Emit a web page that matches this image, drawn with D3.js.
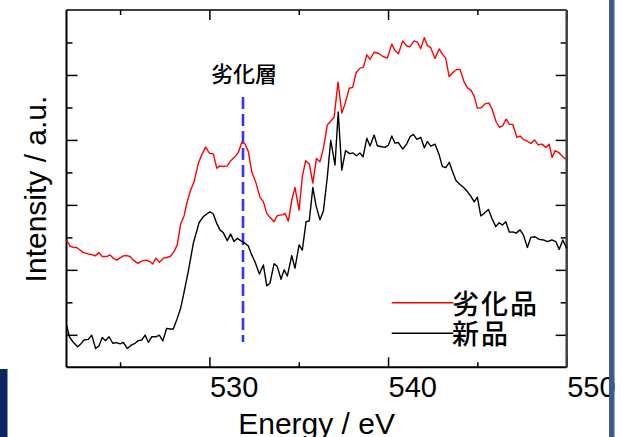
<!DOCTYPE html>
<html>
<head>
<meta charset="utf-8">
<script src="https://cdn.jsdelivr.net/npm/d3@7"></script>
<style>
  body { margin: 0; background: #fff; }
  svg { display: block; }
</style>
</head>
<body>
<svg width="621" height="437"></svg>
<script>
var width = 621;
var height = 437;

// Energy (eV) / Intensity (a.u.)
var degradedEnergy = [522.01,522.20,522.38,522.57,522.76,522.94,523.22,523.41,523.60,523.82,524.00,524.25,524.44,524.62,524.81,525.00,525.18,525.37,525.56,525.74,525.99,526.21,526.45,526.68,526.83,527.01,527.20,527.42,527.61,527.80,528.02,528.20,528.39,528.58,528.74,528.92,529.14,529.38,529.57,529.79,530.00,530.22,530.41,530.59,530.78,531.00,531.19,531.43,531.62,531.81,531.99,532.18,532.37,532.61,532.83,533.02,533.21,533.39,533.62,533.80,534.14,534.23,534.42,534.61,534.79,535.02,535.20,535.39,535.59,535.79,535.99,536.19,536.38,536.60,536.75,536.98,537.20,537.41,537.59,537.83,538.02,538.21,538.43,538.62,538.81,538.99,539.22,539.46,539.74,539.96,540.21,540.39,540.58,540.82,541.05,541.23,541.46,541.64,541.83,542.03,542.20,542.39,542.63,542.86,543.04,543.23,543.42,543.66,543.85,544.03,544.26,544.44,544.63,544.82,545.00,545.21,545.43,545.64,545.82,546.05,546.23,546.41,546.61,546.79,546.98,547.21,547.39,547.58,547.80,547.99,548.20,548.40,548.62,548.83,549.02,549.18,549.35,549.56,549.78,550.00];
var degradedIntensity = [3.92,3.73,3.69,3.69,3.61,3.53,3.49,3.47,3.43,3.53,3.41,3.41,3.46,3.36,3.30,3.37,3.43,3.44,3.41,3.30,3.20,3.27,3.30,3.25,3.18,3.36,3.23,3.36,3.38,3.41,3.56,3.77,4.41,4.66,5.06,5.41,5.71,6.28,6.54,6.78,6.59,6.57,6.13,6.20,6.18,6.20,6.36,6.48,6.61,6.92,6.88,6.64,6.02,5.67,5.23,5.10,4.74,4.62,4.48,4.67,4.70,4.74,4.50,5.15,5.54,4.84,5.87,6.36,6.26,5.67,6.43,6.33,6.74,7.46,7.55,7.70,8.78,7.83,8.11,8.59,8.62,9.07,9.21,9.24,9.62,9.48,9.70,9.67,9.56,9.52,9.95,9.75,9.65,10.05,9.89,9.87,10.05,10.01,9.81,10.15,9.90,9.84,9.51,9.80,9.64,9.51,8.95,9.09,9.17,9.17,8.78,8.60,8.54,8.34,7.98,7.99,8.11,8.14,7.95,7.56,7.39,7.43,7.64,7.48,7.48,7.08,7.12,7.01,6.96,6.89,7.00,6.85,6.87,6.77,6.87,6.46,6.67,6.61,6.48,6.38];

var newEnergy = [522.01,522.16,522.38,522.62,522.80,522.98,523.22,523.41,523.63,523.82,524.00,524.19,524.38,524.59,524.81,525.00,525.18,525.40,525.65,525.84,526.02,526.21,526.40,526.58,526.77,527.00,527.20,527.39,527.61,527.80,527.98,528.17,528.39,528.55,528.82,529.10,529.42,529.66,529.85,530.03,530.22,530.41,530.59,530.78,531.00,531.19,531.38,531.56,531.75,531.94,532.18,532.37,532.55,532.80,533.02,533.21,533.39,533.62,533.80,534.01,534.18,534.36,534.61,534.79,535.02,535.20,535.41,535.59,535.79,535.97,536.19,536.38,536.60,536.79,537.03,537.21,537.41,537.62,537.85,538.04,538.23,538.42,538.60,538.81,538.99,539.22,539.40,539.65,539.83,540.02,540.21,540.39,540.58,540.82,541.05,541.23,541.42,541.61,541.83,542.03,542.20,542.39,542.63,542.86,543.04,543.23,543.43,543.61,543.81,544.03,544.26,544.44,544.63,544.82,545.00,545.19,545.38,545.62,545.81,546.03,546.22,546.40,546.59,546.79,546.98,547.17,547.39,547.58,547.80,547.99,548.23,548.46,548.70,548.92,549.17,549.39,549.58,549.78,550.00];
var newIntensity = [1.30,0.94,0.77,0.63,0.72,0.84,0.86,0.99,0.58,0.66,0.92,0.82,0.94,0.74,0.76,0.72,0.77,0.58,0.69,0.74,0.82,0.84,0.99,0.77,0.94,0.94,0.99,0.81,1.20,1.18,1.18,1.46,1.82,2.23,2.96,3.82,4.45,4.64,4.72,4.79,4.72,4.43,4.23,4.14,3.90,4.10,3.87,3.97,3.90,3.84,3.73,3.46,3.25,2.87,3.15,2.51,2.59,3.19,3.10,2.71,3.00,2.81,3.44,3.05,3.77,3.61,4.48,4.51,5.54,4.97,4.54,4.81,5.86,6.99,6.23,7.86,6.07,6.67,6.58,6.60,6.51,6.60,6.48,7.05,6.81,7.15,6.82,6.79,6.77,6.84,7.12,6.90,6.92,6.72,6.88,7.10,7.17,7.02,7.08,6.76,6.95,6.81,6.87,6.54,6.18,6.15,6.31,6.02,5.74,5.63,5.52,5.41,5.27,5.09,5.24,4.66,4.74,4.86,4.59,4.33,4.45,4.38,4.48,4.16,4.17,4.13,4.23,4.07,3.69,4.00,4.02,3.94,3.92,3.87,3.92,3.87,3.63,3.92,3.66];

var majorTicks = [530, 540, 550];
var minorTicks = [525, 535, 545];
var yLongTicks = [1, 3, 5, 7, 9];
var yShortTicks = [2, 4, 6, 8, 10];
var seriesNames = ["劣化品", "新品"];
var seriesColors = ["#ff0000", "#000000"];
var markerEnergy = 531.88;
var markerRange = [0.78, 8.32];
var markerLabel = "劣化層";

var svg = d3.select("svg");
var latin = "'Liberation Sans', Arial, sans-serif";
var cjk = "'Noto Sans CJK JP', 'Noto Sans CJK SC', sans-serif";

var xscale = d3.scaleLinear().domain([522, 550]).range([66.5, 566.7]);
var yscale = d3.scaleLinear().domain([0, 11]).range([367.3, 10]);

// axes, ticks inward
function axis(gen, tx, ty) {
    var g = svg.append("g")
        .attr("transform", "translate(" + tx + "," + ty + ")")
        .call(gen);
    g.select(".domain").remove();
    g.selectAll("line").attr("stroke", "#000").attr("stroke-width", 1.5);
    return g;
}

var bottom = axis(d3.axisBottom(xscale).tickValues(majorTicks).tickSize(-10).tickPadding(9).tickFormat(d3.format("d")), 0, yscale(0));
bottom.selectAll("text")
    .attr("text-anchor", "start")
    .attr("fill", "#000")
    .style("font-family", latin)
    .style("font-size", "29px");
axis(d3.axisBottom(xscale).tickValues(minorTicks).tickSize(-5).tickFormat(""), 0, yscale(0));
axis(d3.axisTop(xscale).tickValues(majorTicks).tickSize(-10).tickFormat(""), 0, yscale(11));
axis(d3.axisTop(xscale).tickValues(minorTicks).tickSize(-5).tickFormat(""), 0, yscale(11));
axis(d3.axisLeft(yscale).tickValues(yLongTicks).tickSize(-11).tickFormat(""), xscale(522), 0);
axis(d3.axisLeft(yscale).tickValues(yShortTicks).tickSize(-6).tickFormat(""), xscale(522), 0);
axis(d3.axisRight(yscale).tickValues(yLongTicks).tickSize(-11).tickFormat(""), xscale(550), 0);
axis(d3.axisRight(yscale).tickValues(yShortTicks).tickSize(-6).tickFormat(""), xscale(550), 0);

// frame
var x0 = xscale(522), x1 = xscale(550), y0 = yscale(0), y1 = yscale(11);
svg.append("line").attr("x1", x0).attr("x2", x1).attr("y1", y1).attr("y2", y1)
    .attr("stroke", "#000").attr("stroke-width", 1.6);
svg.append("line").attr("x1", x0).attr("x2", x1).attr("y1", y0).attr("y2", y0)
    .attr("stroke", "#000").attr("stroke-width", 2);
svg.append("line").attr("x1", x0).attr("x2", x0).attr("y1", y1).attr("y2", y0)
    .attr("stroke", "#000").attr("stroke-width", 2);
svg.append("line").attr("x1", x1).attr("x2", x1).attr("y1", y1).attr("y2", y0)
    .attr("stroke", "#404040").attr("stroke-width", 2.5);

// marker line
svg.append("line")
    .attr("x1", xscale(markerEnergy)).attr("x2", xscale(markerEnergy))
    .attr("y1", yscale(markerRange[1])).attr("y2", yscale(markerRange[0]))
    .attr("stroke", "#3333ff").attr("stroke-width", 2.6)
    .attr("stroke-dasharray", "12,5");
svg.append("text")
    .attr("x", xscale(markerEnergy) + 1).attr("y", 82)
    .attr("text-anchor", "middle")
    .style("font-family", cjk).style("font-size", "22px")
    .style("font-weight", "500")
    .text(markerLabel);

// curves
var line = d3.line()
    .x(function(d) { return xscale(d[0]); })
    .y(function(d) { return yscale(d[1]); });

var series = [
    d3.zip(degradedEnergy, degradedIntensity),
    d3.zip(newEnergy, newIntensity)
];
series.forEach(function(s, i) {
    svg.append("path")
        .datum(s)
        .attr("d", line)
        .attr("fill", "none")
        .attr("stroke", seriesColors[i])
        .attr("stroke-width", 1.4)
        .attr("stroke-linejoin", "round");
});

// legend
var legendY = [302.7, 333.3];
seriesNames.forEach(function(name, i) {
    svg.append("line")
        .attr("x1", 391.7).attr("x2", 453.3)
        .attr("y1", legendY[i]).attr("y2", legendY[i])
        .attr("stroke", seriesColors[i]).attr("stroke-width", 1.4);
    svg.append("text")
        .attr("x", 452).attr("y", legendY[i] + 11)
        .style("font-family", cjk).style("font-size", "27px")
        .style("font-weight", "500")
        .style("letter-spacing", "2px")
        .attr("fill", "#000")
        .text(name);
});

// axis titles
svg.append("text")
    .attr("x", 316.6).attr("y", 434)
    .attr("text-anchor", "middle")
    .style("font-family", latin).style("font-size", "30px")
    .text("Energy / eV");
svg.append("text")
    .attr("transform", "translate(46,189) rotate(-90)")
    .attr("text-anchor", "middle")
    .style("font-family", latin).style("font-size", "30px")
    .text("Intensity / a.u.");

// slide decorations
svg.append("rect").attr("x", 609).attr("y", 0).attr("width", 5.5).attr("height", height)
    .attr("fill", "#3b5b8c");
svg.append("rect").attr("x", 0).attr("y", 369).attr("width", 7.5).attr("height", height - 369)
    .attr("fill", "#0b2462");
</script>
</body>
</html>
